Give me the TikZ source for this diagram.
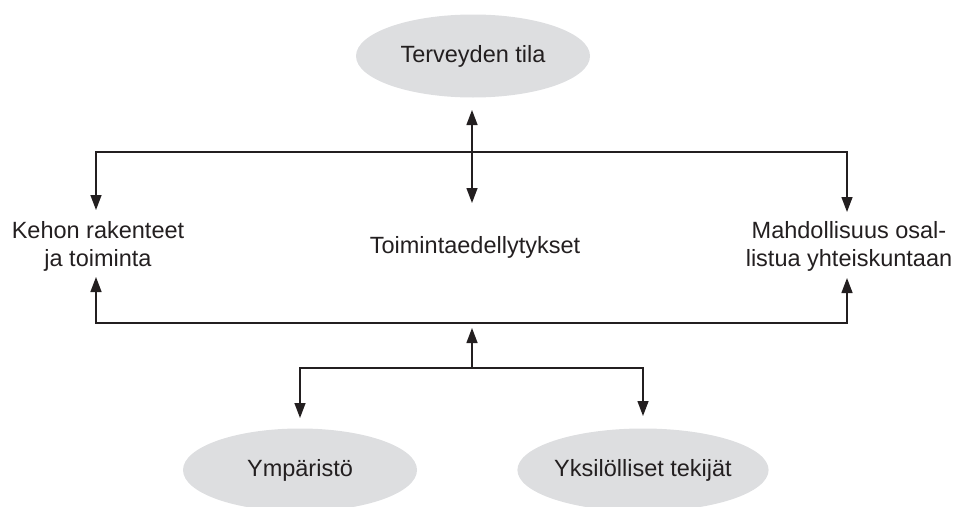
\documentclass[tikz,border=0pt]{standalone}
\usepackage{fontspec}
\setmainfont{Liberation Sans}
\usetikzlibrary{shapes.geometric,arrows.meta}
\definecolor{ovalgray}{RGB}{221,222,224}
\definecolor{ink}{RGB}{35,31,32}
\begin{document}
\begin{tikzpicture}[x=1pt,y=-1pt,
  oval/.style={ellipse, fill=ovalgray, minimum width=234pt, minimum height=83pt, inner sep=0pt, text=ink, font=\fontsize{23.5}{28}\selectfont},
  lbl/.style={align=center, inner sep=0pt, text=ink, font=\fontsize{23.5}{28}\selectfont},
  conn/.style={line width=1.4pt, draw=ink, line join=miter},
  arr/.style={conn, -{Triangle[length=15pt,width=11pt]}},
  dbl/.style={conn, {Triangle[length=15pt,width=11pt]}-{Triangle[length=15pt,width=11pt]}},
]
\clip (0,0) rectangle (955,506);
% nodes
\node[oval] (health) at (473,56) {Terveyden tila};
\node[lbl] (body) at (98,246) {Kehon rakenteet\\ja toiminta};
\node[lbl] (activity) at (475,247) {Toimintaedellytykset};
\node[lbl] (particip) at (849,246) {Mahdollisuus osal-\\listua yhteiskuntaan};
\node[oval] (env) at (300,470) {Ympäristö};
\node[oval] (pers) at (643,470) {Yksilölliset tekijät};
% junction coordinates
\coordinate (cTop) at (472,110);
\coordinate (cBot) at (472,203);
\coordinate (tL) at (96,152);
\coordinate (tR) at (847,152);
\coordinate (tLend) at (96,210);
\coordinate (tRend) at (847,212);
\coordinate (bL) at (96,323);
\coordinate (bR) at (847,323);
\coordinate (bLend) at (96,277);
\coordinate (bRend) at (847,278);
\coordinate (fStart) at (472,368);
\coordinate (fEnd) at (472,328);
\coordinate (eJ) at (300,368);
\coordinate (pJ) at (643,368);
\coordinate (eEnd) at (300,418);
\coordinate (pEnd) at (643,416);
% connectors
\draw[dbl] (cTop) -- (cBot);
\draw[dbl] (tLend) -- (tL) -- (tR) -- (tRend);
\draw[dbl] (bLend) -- (bL) -- (bR) -- (bRend);
\draw[arr] (fStart) -- (fEnd);
\draw[dbl] (eEnd) -- (eJ) -- (pJ) -- (pEnd);
\end{tikzpicture}
\end{document}
